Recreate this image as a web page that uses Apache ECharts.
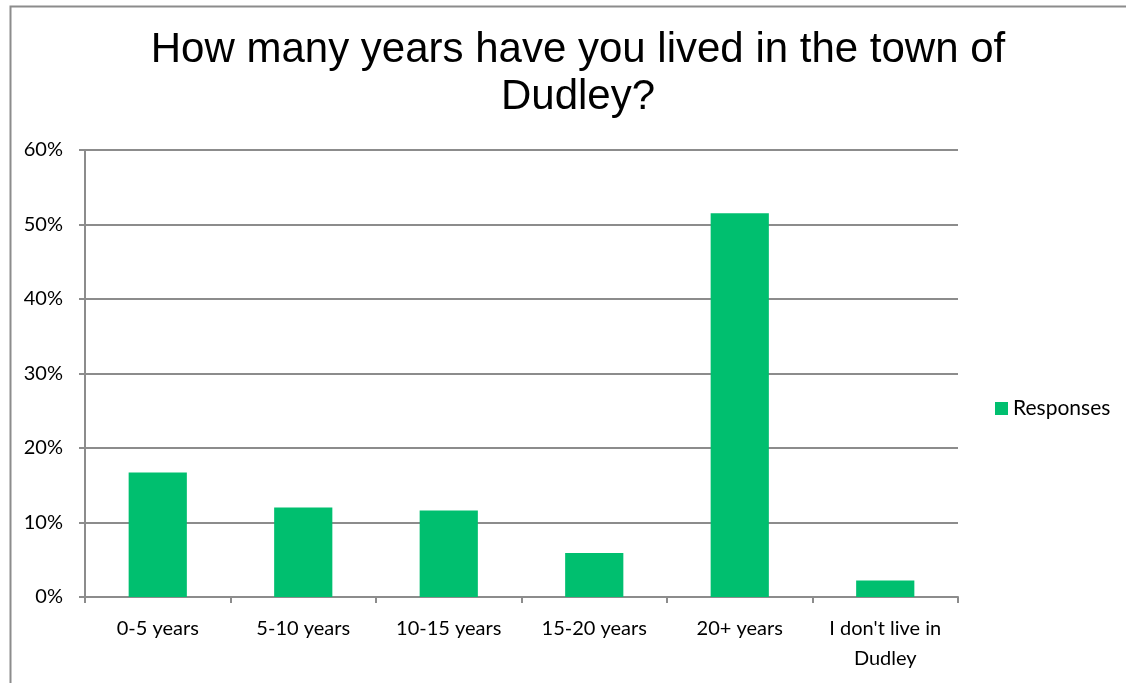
<!DOCTYPE html>
<html>
<head>
<meta charset="utf-8">
<script src="https://cdn.jsdelivr.net/npm/echarts@6/dist/echarts.min.js"></script>
<style>
  html, body { margin: 0; padding: 0; background: #fff; }
  #chart { width: 1126px; height: 683px; }
</style>
</head>
<body>
<div id="chart"></div>
<script>
var categories = ['0-5 years', '5-10 years', '10-15 years', '15-20 years', '20+ years', "I don't live in\nDudley"];
var responses = [16.7, 12.0, 11.6, 5.9, 51.5, 2.2];
var yTicks = [0, 10, 20, 30, 40, 50, 60];

var myChart = echarts.init(document.getElementById('chart'));
var axisGray = '#8c8c8c';
var labelFont = 'Lato, "Open Sans", sans-serif';

option = {
    backgroundColor: '#fff',
    title: {
        text: 'How many years have you lived in the town of\nDudley?',
        left: 573,
        textAlign: 'center',
        top: 22,
        textStyle: {
            fontFamily: '"Liberation Sans", Arial, sans-serif',
            fontSize: 42,
            fontWeight: 'normal',
            color: '#000',
            lineHeight: 47
        }
    },
    legend: {
        data: ['Responses'],
        left: 990,
        top: 393,
        itemWidth: 13,
        itemHeight: 13,
        itemGap: 7,
        icon: 'rect',
        textStyle: { fontFamily: labelFont, fontSize: 21, color: '#000' }
    },
    graphic: [{
        type: 'rect',
        left: 8,
        top: 4,
        shape: { width: 1300, height: 900 },
        style: { fill: 'none', stroke: '#8c8c8c', lineWidth: 2 },
        silent: true
    }],
    grid: { left: 85, right: 168, top: 150, bottom: 86 },
    xAxis: {
        type: 'category',
        data: categories,
        axisLine: { lineStyle: { color: axisGray, width: 2 } },
        axisTick: { show: true, length: 6, lineStyle: { color: axisGray, width: 2 } },
        axisLabel: {
            interval: 0,
            margin: 17,
            fontFamily: labelFont,
            fontSize: 20,
            color: '#000',
            lineHeight: 30
        }
    },
    yAxis: {
        type: 'value',
        min: 0,
        max: 60,
        interval: 10,
        axisLine: { show: true, lineStyle: { color: axisGray, width: 2 } },
        axisTick: { show: true, length: 6, lineStyle: { color: axisGray, width: 2 } },
        splitLine: { lineStyle: { color: axisGray, width: 2 } },
        axisLabel: {
            margin: 22,
            fontFamily: labelFont,
            fontSize: 20,
            color: '#000',
            formatter: function (v) {
                return yTicks.indexOf(v) >= 0 ? v + '%' : '';
            }
        }
    },
    series: [{
        name: 'Responses',
        type: 'bar',
        data: responses,
        barWidth: '40%',
        itemStyle: { color: '#00bf6f' }
    }]
};
myChart.setOption(option);
</script>
</body>
</html>
